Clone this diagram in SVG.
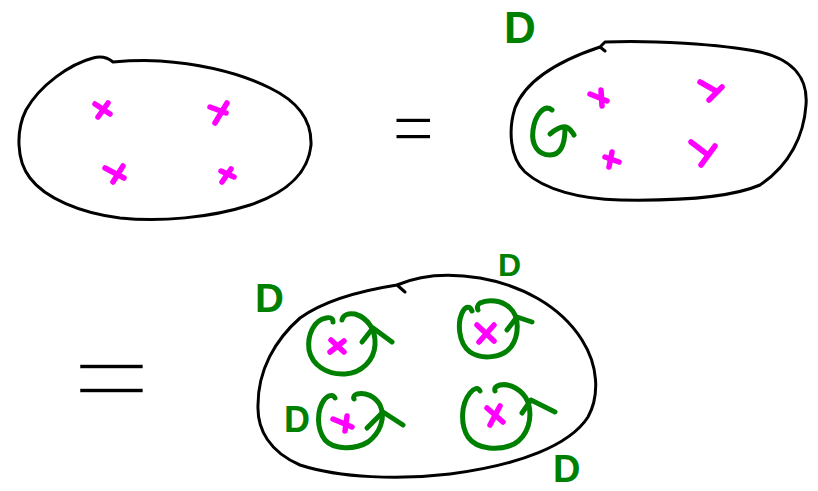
<svg xmlns="http://www.w3.org/2000/svg" width="818" height="491" viewBox="0 0 818 491">
<style>
.blob{fill:none;stroke:#000;stroke-width:3;stroke-linecap:round;stroke-linejoin:round}
.x{fill:none;stroke:#ff00ff;stroke-width:5.5;stroke-linecap:round}
.g{fill:none;stroke:#008000;stroke-width:5;stroke-linecap:round;stroke-linejoin:round}
.d{font-family:"Liberation Sans",Arial,sans-serif;font-weight:bold;fill:#008000}
.eq{font-family:"Liberation Sans",Arial,sans-serif;fill:#000;stroke:#fff}
</style>
<rect width="818" height="491" fill="#fff"/>
<g id="set1">
<path class="blob" d="M113,62 C107,57 100,56 93,58 C70,64 40,85 26,110 C16,130 16,160 30,178 C45,198 80,213 120,218 C160,222 210,218 250,205 C285,193 308,175 311,145 C312,118 295,100 270,88 C240,73 200,64 160,61 C140,60 125,61 113,62"/>
<path class="x" d="M95,104 L110,114 M108,103 L98,117"/>
<path class="x" d="M210,107 L226,113 M227,103 L215,123"/>
<path class="x" d="M105,168 L124,178 M123,166 L113,182"/>
<path class="x" d="M221,171 L234,177 M231,169 L222,182"/>
</g>
<text class="eq" x="0" y="0" font-size="65" stroke-width="1.6" transform="translate(392,150) scale(1.12,1)">=</text>
<g id="set2">
<text class="d" x="504" y="43" font-size="44">D</text>
<path class="blob" d="M605,42 C650,40 720,44 760,52 C795,60 808,80 806,105 C804,135 790,165 760,185 C730,198 680,201 620,200 C580,199 545,190 525,172 C510,158 508,130 515,108 C525,82 555,62 600,47 L605,42 M600,47 L605,51"/>
<path class="g" d="M552,110 C544,104 535,115 533,130 C531,145 538,155 550,155 C560,155 565,145 565,128 M550,134 C556,129 562,126 566,127 C570,128 572,132 574,135"/>
<path class="x" d="M590,94 L607,101 M601,90 L602,106"/>
<path class="x" d="M700,82 L716,91 M722,87 L709,100"/>
<path class="x" d="M605,157 L619,162 M612,152 L609,167"/>
<path class="x" d="M691,142 L708,155 M715,146 L701,165"/>
</g>
<text class="eq" x="0" y="0" font-size="97" stroke-width="3.4" transform="translate(71,410) scale(1.43,1)">=</text>
<g id="set3">
<path class="blob" d="M397,285 C420,275 450,273 480,278 C520,285 560,305 582,340 C598,365 600,395 588,417 C570,445 520,465 450,474 C400,480 340,478 300,465 C270,452 257,430 258,405 C258,370 275,340 300,318 C325,300 365,290 397,285 L405,292"/>
<text class="d" x="255" y="312" font-size="40">D</text>
<text class="d" x="498" y="276" font-size="32">D</text>
<text class="d" x="284" y="432" font-size="36">D</text>
<text class="d" x="553" y="482" font-size="38">D</text>
<g id="loopA">
<path class="g" d="M333,322 C333,318 330,317 326,318 C314,320 307,335 309,350 C312,365 327,375 345,374 C362,373 374,360 375,345 C376,330 368,318 355,314 C348,313 343,315 342,320"/>
<path class="g" d="M362,342 L373,328 L392,342"/>
<path class="x" d="M330,352 L344,341 M331,340 L344,352"/>
</g>
<g id="loopB">
<path class="g" d="M472,311 C470,306 466,306 463,311 C457,322 458,343 470,352 C482,360 502,358 511,347 C519,336 520,317 510,308 C502,300 488,299 480,303 C477,305 477,308 478,310"/>
<path class="g" d="M507,330 L517,317 L532,322"/>
<path class="x" d="M477,325 L494,341 M494,325 L479,342"/>
</g>
<g id="loopC">
<path class="g" d="M335,398 C333,394 328,395 324,400 C317,410 316,428 325,440 C334,450 355,450 368,442 C380,433 386,418 380,405 C375,396 365,392 357,394 C354,395 353,397 354,399"/>
<path class="g" d="M367,428 L383,412 L403,425"/>
<path class="x" d="M333,419 L352,427 M347,416 L345,431"/>
</g>
<g id="loopD">
<path class="g" d="M480,391 C478,387 474,388 470,393 C461,404 460,424 468,437 C477,450 500,451 514,444 C528,436 533,418 528,402 C523,390 510,383 500,385 C496,386 494,388 495,391"/>
<path class="g" d="M522,413 L531,400 L555,412"/>
<path class="x" d="M487,408 L503,422 M500,406 L490,425"/>
</g>
</g>
</svg>
